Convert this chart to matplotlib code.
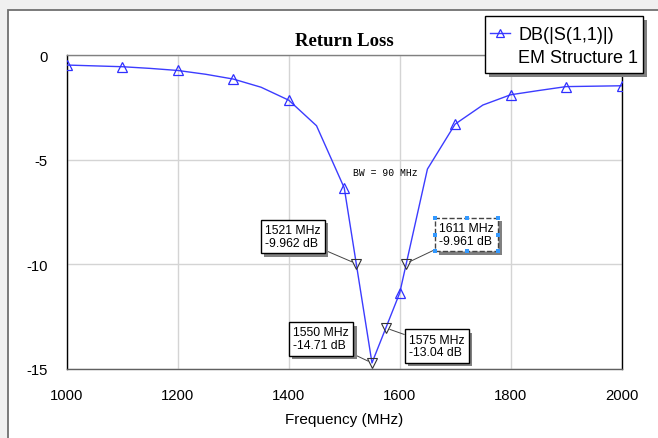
import matplotlib
matplotlib.use("Agg")
import matplotlib.pyplot as plt
from matplotlib.lines import Line2D
from matplotlib.patches import Rectangle
import matplotlib.patheffects as pe

# ---- data ----
freq = [1000, 1050, 1100, 1150, 1200, 1250, 1300, 1350, 1400, 1450, 1500,
        1550, 1600, 1650, 1700, 1750, 1800, 1850, 1900, 1950, 2000]
s11_db = [-0.48, -0.52, -0.56, -0.64, -0.74, -0.92, -1.15, -1.54, -2.16, -3.38, -6.35,
          -14.71, -11.37, -5.45, -3.30, -2.39, -1.90, -1.70, -1.51, -1.49, -1.47]
marker_freq = [1521, 1550, 1575, 1611]
marker_db = [-9.962, -14.71, -13.04, -9.961]
# box offsets (pixels) of each marker label relative to its marker
marker_offsets = [(-63, 27), (-51, 24), (51, -18), (61, 29)]
bw_text = "BW = 90 MHz"
xticks = [1000, 1200, 1400, 1600, 1800, 2000]
yticks = [0, -5, -10, -15]
legend_labels = ["DB(|S(1,1)|)", "EM Structure 1"]

W, H = 658, 439
fig = plt.figure(figsize=(W / 100, H / 100), dpi=100)
fig.patch.set_facecolor("#f0f0f0")

# white panel with border (only left and top edges visible)
panel = Rectangle((7.5 / W, -0.05), (W + 20 - 7.5) / W, 1.05 - 10.5 / H,
                  transform=fig.transFigure, facecolor="white", edgecolor="#707070",
                  linewidth=1.3, zorder=-5)
fig.patches.append(panel)

ax = fig.add_axes([67 / W, 1 - 370 / H, (621.5 - 67) / W, (370 - 56) / H])
ax.set_facecolor("white")
ax.set_xlim(1000, 2000)
ax.set_ylim(-15, 0)

ax.set_xticks(xticks)
ax.set_yticks(yticks)
ax.set_yticklabels([str(v) for v in yticks])
ax.tick_params(length=0, labelsize=10.7)
ax.tick_params(axis="y", pad=14)
ax.tick_params(axis="x", pad=14)
for lab in ax.get_xticklabels() + ax.get_yticklabels():
    lab.set_fontfamily("Liberation Sans")

ax.grid(True, color="#d4d4d4", linewidth=1)
ax.set_axisbelow(True)

ax.spines["left"].set_color("black")
ax.spines["right"].set_color("black")
ax.spines["top"].set_color("#808080")
ax.spines["bottom"].set_color("#606060")
for s in ax.spines.values():
    s.set_linewidth(1.0)

line, = ax.plot(freq, s11_db, color="#3c3cff", linewidth=1.0, zorder=3)
ax.plot(freq[::2], s11_db[::2], linestyle="none", marker="^", markersize=7,
        markerfacecolor="none", markeredgecolor="#2f2fff", markeredgewidth=0.9, zorder=4)

ax.plot(marker_freq, marker_db, linestyle="none", marker="v", markersize=7,
        markerfacecolor="none", markeredgecolor="#333333", markeredgewidth=0.8, zorder=5)

ax.set_title("Return Loss", fontfamily="Liberation Serif", fontweight="bold",
             fontsize=13.5, pad=7.5)
ax.set_xlabel("Frequency (MHz)", fontfamily="Liberation Sans", fontsize=11, labelpad=7)

ax.text(1574, -5.6, bw_text, fontfamily="Liberation Mono", fontsize=7,
        ha="center", va="center", zorder=6)

boxes = []
for i, (f, d, off) in enumerate(zip(marker_freq, marker_db, marker_offsets)):
    selected = (i == len(marker_freq) - 1)
    ann = ax.annotate(f"{f} MHz\n{d:g} dB", xy=(f, d), xytext=off,
                      textcoords="offset pixels", ha="center", va="center",
                      multialignment="left", fontsize=8.8, fontfamily="Liberation Sans",
                      linespacing=1.1, zorder=7,
                      bbox=dict(boxstyle="square,pad=0.35", facecolor="white",
                                edgecolor="#444444" if selected else "black",
                                linewidth=1.0, linestyle="--" if selected else "-"),
                      arrowprops=dict(arrowstyle="-", color="#444444", linewidth=0.7,
                                      shrinkA=0, shrinkB=3))
    ann.get_bbox_patch().set_path_effects(
        [pe.SimplePatchShadow(offset=(2.5, -2.5), shadow_rgbFace="#808080", alpha=1.0),
         pe.Normal()])
    boxes.append((ann, selected))

# legend frame (drawn separately so its size matches the reference)
lx0, ly0, lx1, ly1 = 485, 17, 643, 74
legframe = Rectangle((lx0 / W, 1 - ly1 / H), (lx1 - lx0) / W, (ly1 - ly0) / H,
                     transform=fig.transFigure, facecolor="white", edgecolor="black",
                     linewidth=1.0, zorder=9)
legframe.set_path_effects(
    [pe.SimplePatchShadow(offset=(3, -3), shadow_rgbFace="#808080", alpha=1.0), pe.Normal()])
fig.patches.append(legframe)

h1 = Line2D([], [], color="#3c3cff", linewidth=1.0, marker="^", markersize=6,
            markerfacecolor="none", markeredgecolor="#2f2fff", markeredgewidth=0.9)
h2 = Line2D([], [], linestyle="none")
leg = fig.legend([h1, h2], legend_labels, loc="upper left",
                 bbox_to_anchor=(lx0 / W, 1 - (ly0 + 5) / H), bbox_transform=fig.transFigure,
                 prop={"family": "Liberation Sans", "size": 13}, frameon=False,
                 borderpad=0.3, labelspacing=0.3, handlelength=1.1, handletextpad=0.45,
                 borderaxespad=0)
leg.set_zorder(11)

# selection handles on the selected marker box
fig.canvas.draw()
inv = fig.transFigure.inverted()
for ann, selected in boxes:
    if not selected:
        continue
    bb = ann.get_bbox_patch().get_window_extent()
    xs = [bb.x0, (bb.x0 + bb.x1) / 2, bb.x1]
    ys = [bb.y0, (bb.y0 + bb.y1) / 2, bb.y1]
    for xx in xs:
        for yy in ys:
            if xx == xs[1] and yy == ys[1]:
                continue
            fx, fy = inv.transform((xx, yy))
            fig.patches.append(Rectangle((fx - 2 / W, fy - 2 / H), 4 / W, 4 / H,
                                         transform=fig.transFigure, facecolor="#3399ff",
                                         edgecolor="none", zorder=20))

fig.savefig("out.png", dpi=100, facecolor=fig.get_facecolor())
